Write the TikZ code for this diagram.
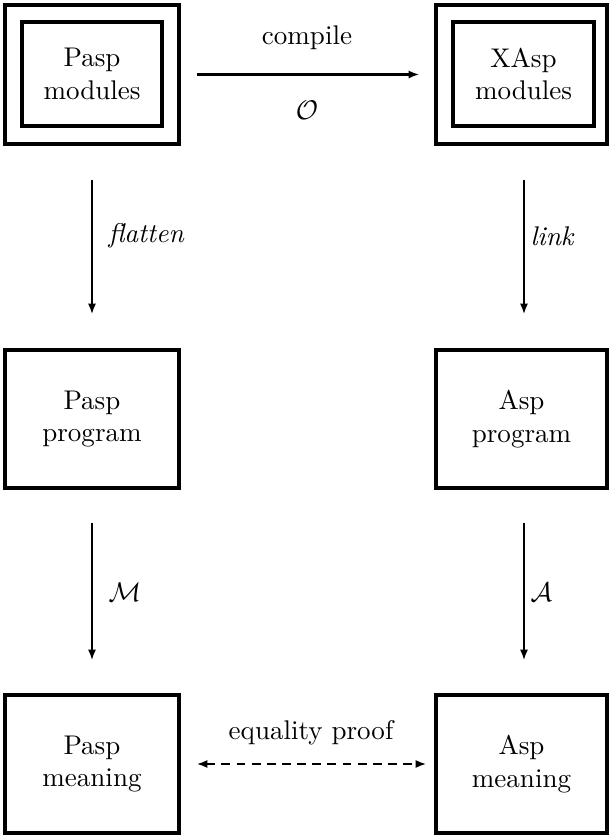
\documentclass[tikz,border=0pt]{standalone}
\usetikzlibrary{arrows.meta}
\begin{document}
\begin{tikzpicture}[x=0.37pt,y=-0.37pt,
  box/.style={draw,line width=1.15pt,align=center,inner sep=0pt},
  conn/.style={line width=0.85pt,-{Latex[length=4pt,width=3pt]}},
  lbl/.style={inner sep=0pt}]
\useasboundingbox (0,0) rectangle (609,837);
% top row
\node[box,minimum width=174*0.37pt,minimum height=139*0.37pt] (po) at (92,74.5) {};
\node[box,minimum width=140*0.37pt,minimum height=104*0.37pt] (pi) at (92,74) {Pasp\\modules};
\node[box,minimum width=171*0.37pt,minimum height=139*0.37pt] (xo) at (521.5,74.5) {};
\node[box,minimum width=141*0.37pt,minimum height=104*0.37pt] (xi) at (523.5,74) {XAsp\\modules};
% middle row
\node[box,minimum width=174*0.37pt,minimum height=138*0.37pt] (pp) at (92,419) {Pasp\\program};
\node[box,minimum width=171*0.37pt,minimum height=138*0.37pt] (ap) at (521.5,419) {Asp\\program};
% bottom row
\node[box,minimum width=174*0.37pt,minimum height=138*0.37pt] (pm) at (92,764) {Pasp\\meaning};
\node[box,minimum width=171*0.37pt,minimum height=138*0.37pt] (am) at (521.5,764) {Asp\\meaning};
% connectors
\draw[conn,shorten <=16*0.37pt,shorten >=15*0.37pt] (po.east) -- (xo.west|-po.east);
\node[lbl] (lc) at (307,38) {compile};
\node[lbl] (lo) at (307,110) {$\mathcal{O}$};
\draw[conn,shorten <=34*0.37pt,shorten >=34*0.37pt] (po.south) -- (pp.north);
\node[lbl,anchor=west] (lf) at (108,236) {\textit{flatten}};
\draw[conn,shorten <=34*0.37pt,shorten >=34*0.37pt] ([xshift=2.5*0.37pt]xo.south) -- ([xshift=2.5*0.37pt]ap.north);
\node[lbl,anchor=west] (ll) at (530,236) {\textit{link}};
\draw[conn,shorten <=33*0.37pt,shorten >=33*0.37pt] (pp.south) -- (pm.north);
\node[lbl,anchor=west] (lm) at (108,592) {$\mathcal{M}$};
\draw[conn,shorten <=33*0.37pt,shorten >=33*0.37pt] ([xshift=2.5*0.37pt]ap.south) -- ([xshift=2.5*0.37pt]am.north);
\node[lbl,anchor=west] (la) at (530,592) {$\mathcal{A}$};
\draw[line width=0.85pt,dash pattern=on 3.3pt off 2.3pt,{Latex[length=4pt,width=3pt]}-{Latex[length=4pt,width=3pt]},shorten <=16*0.37pt,shorten >=8*0.37pt] (pm.east) -- (am.west|-pm.east);
\node[lbl] (le) at (311,733) {equality proof};
\end{tikzpicture}
\end{document}
